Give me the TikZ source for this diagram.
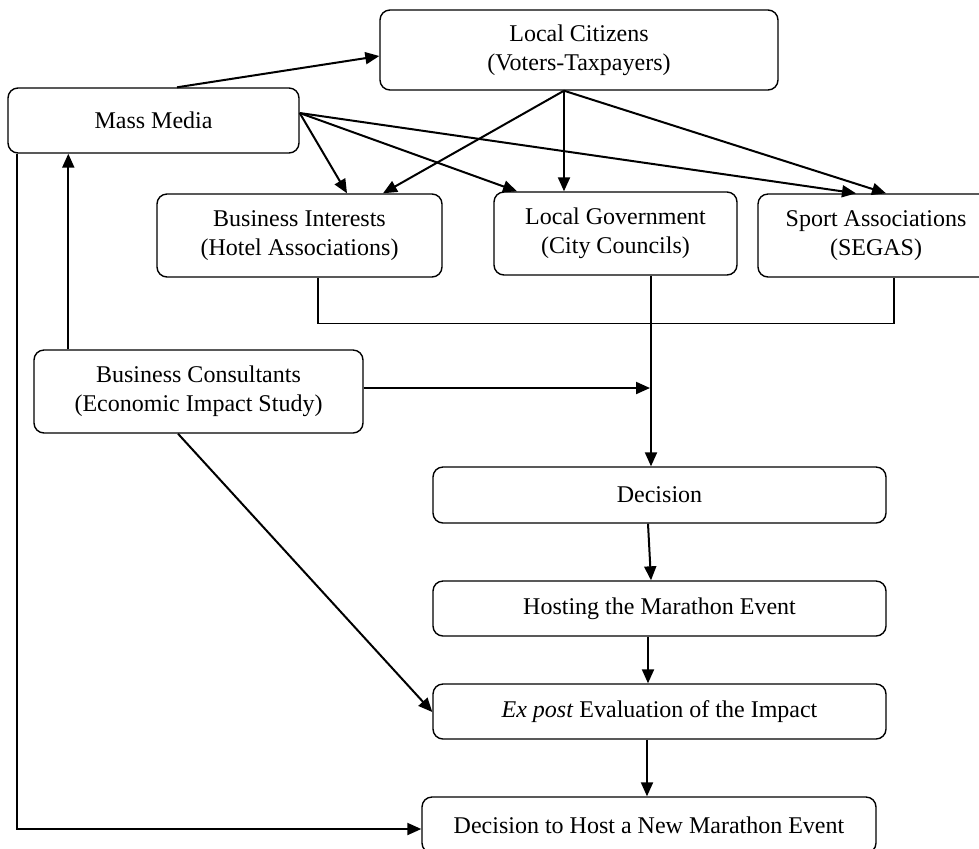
\documentclass[tikz,border=0pt]{standalone}
\usepackage{fontspec}
\setmainfont{Liberation Serif}
\usetikzlibrary{arrows.meta,calc}
\begin{document}
\begin{tikzpicture}[>={Triangle[length=7pt,width=6pt]},x=0.5pt,y=-0.5pt,
	box/.style={draw,line width=0.7pt,rounded corners=5pt,align=center,inner sep=0pt,
		font=\fontsize{12}{14.5}\selectfont},
	link/.style={line width=1pt}]
	\useasboundingbox (0,0) rectangle (979,848);
	% actors
	\node[box,minimum width=199pt,minimum height=40pt] (cit) at (579,50) {Local Citizens\\(Voters-Taxpayers)};
	\node[box,minimum width=145.5pt,minimum height=32.5pt] (media) at (153.5,120.5) {Mass Media};
	\node[box,minimum width=142.5pt,minimum height=41.5pt] (biz) at (299.5,235.5) {Business Interests\\(Hotel Associations)};
	\node[box,minimum width=121.5pt,minimum height=41.5pt] (gov) at (615.5,233.5) {Local Government\\(City Councils)};
	\node[box,minimum width=118pt,minimum height=41.5pt] (sport) at (876,235.5) {Sport Associations\\(SEGAS)};
	\node[box,minimum width=164.5pt,minimum height=41.5pt] (cons) at (198.5,391.5) {Business Consultants\\(Economic Impact Study)};
	% process
	\node[box,minimum width=226.5pt,minimum height=28pt] (dec) at (659.5,495) {Decision};
	\node[box,minimum width=226.5pt,minimum height=27.5pt] (host) at (659.5,608.5) {Hosting the Marathon Event};
	\node[box,minimum width=226.5pt,minimum height=27.5pt] (eval) at (659.5,711.5) {\textit{Ex post} Evaluation of the Impact};
	\node[box,minimum width=227pt,minimum height=28pt] (new) at (649,825) {Decision to Host a New Marathon Event};
	% connection points
	\coordinate (mr) at ($(media.east)+(0,-7.5)$);
	\coordinate (cb) at ($(cit.south)+(-15,0)$);
	\coordinate (gb) at ($(gov.south)+(35.5,0)$);
	% influences
	\draw[link,->] ($(media.north)+(23.5,0)$) -- ($(cit.west)+(0,6)$);
	\draw[link,->] (mr) -- ($(biz.north)+(47.5,0)$);
	\draw[link,->] (mr) -- ($(gov.north)+(-98.5,0)$);
	\draw[link,->] (mr) -- ($(sport.north)+(-20,0)$);
	\draw[link,->] (cb) -- ($(biz.north)+(83.5,0)$);
	\draw[link,->] (cb) -- (cb |- gov.north);
	\draw[link,->] (cb) -- ($(sport.north)+(10,0)$);
	\draw[link,->] ($(cons.north west)+(35,0)$) -- ($(media.south west)+(61,0)$);
	\draw[link,->] ($(media.south west)+(10,0)$) |- ($(new.west)+(0,4)$);
	\draw[line width=0.6pt] ($(biz.south)+(18.5,0)$) -- ++(0,46) -| ($(sport.south)+(18,0)$);
	\draw[link,->] (gb) -- (gb |- dec.north);
	\draw[link,->] ($(cons.east)+(0,-3.5)$) -- ($(gb |- cons.east)+(-1,-3.5)$);
	\draw[link,->] ($(cons.south)+(-20.5,0)$) -- ($(eval.west)+(0,0.5)$);
	% sequence
	\draw[link,->] ($(dec.south)+(-11.5,0)$) -- ($(host.north)+(-8.5,0)$);
	\draw[link,->] ($(host.south)+(-11.5,0)$) -- ($(eval.north)+(-11.5,0)$);
	\draw[link,->] ($(eval.south)+(-12.5,0)$) -- ($(new.north)+(-2,0)$);
\end{tikzpicture}
\end{document}
